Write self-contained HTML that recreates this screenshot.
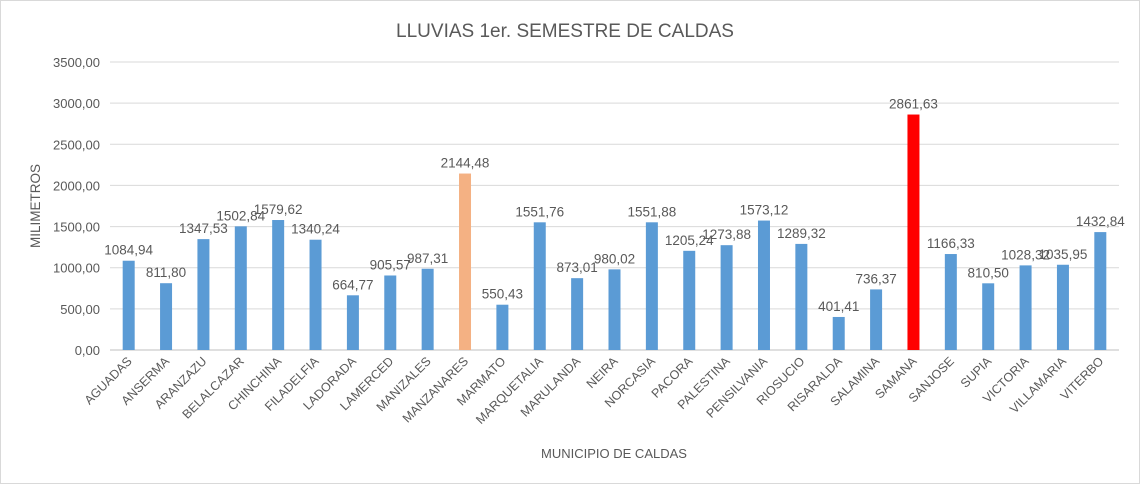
<!DOCTYPE html>
<html><head><meta charset="utf-8"><style>
body{margin:0;background:#fff;}
svg text{font-family:"Liberation Sans",sans-serif;fill:#595959;}
</style></head><body>
<svg id="chart" width="1140" height="484">
<rect x="0.5" y="0.5" width="1139" height="483" fill="#fff" stroke="#d9d9d9"/>
<text x="565" y="37" font-size="19" text-anchor="middle">LLUVIAS 1er. SEMESTRE DE CALDAS</text>
<text x="614" y="458" font-size="13" text-anchor="middle">MUNICIPIO DE CALDAS</text>
<text transform="translate(40,206) rotate(-90)" font-size="13.5" text-anchor="middle">MILIMETROS</text>
<g id="grid"></g><g id="bars"></g><g id="labels"></g>
</svg>
<script>
const categories=["AGUADAS","ANSERMA","ARANZAZU","BELALCAZAR","CHINCHINA","FILADELFIA","LADORADA","LAMERCED","MANIZALES","MANZANARES","MARMATO","MARQUETALIA","MARULANDA","NEIRA","NORCASIA","PACORA","PALESTINA","PENSILVANIA","RIOSUCIO","RISARALDA","SALAMINA","SAMANA","SANJOSE","SUPIA","VICTORIA","VILLAMARIA","VITERBO"];
const values=[1084.94,811.80,1347.53,1502.84,1579.62,1340.24,664.77,905.57,987.31,2144.48,550.43,1551.76,873.01,980.02,1551.88,1205.24,1273.88,1573.12,1289.32,401.41,736.37,2861.63,1166.33,810.50,1028.32,1035.95,1432.84];
const yTicks=[0,500,1000,1500,2000,2500,3000,3500];
const highlight={"MANZANARES":"#f4b183","SAMANA":"#ff0000"};
const NS="http://www.w3.org/2000/svg";
const x0=110,x1=1119,y0=350,y1=62,yMax=3500;
const step=(x1-x0)/categories.length;
const yS=v=>y0-(v/yMax)*(y0-y1);
const xC=i=>x0+step*(i+0.5);
const fmt=v=>v.toFixed(2).replace('.',',');
function mk(t,a,p){const e=document.createElementNS(NS,t);for(const k in a)e.setAttribute(k,a[k]);p.appendChild(e);return e;}
const grid=document.getElementById('grid'),bars=document.getElementById('bars'),labels=document.getElementById('labels');
yTicks.forEach(t=>{
 const y=yS(t);
 const l=mk('line',{x1:x0,x2:x1,y1:y,y2:y,stroke:t===0?'#bfbfbf':'#d9d9d9','stroke-width':1},grid);
 
 
 const tx=mk('text',{x:x0-10,y:y+5,'font-size':13,'text-anchor':'end'},grid);
 tx.textContent=fmt(t);
 
 
});
categories.forEach((c,i)=>{
 const v=values[i],cx=xC(i),y=yS(v);
 const r=mk('rect',{x:cx-6,y:y,width:12,height:y0-y,fill:highlight[c]||'#5b9bd5'},bars);
 
 
 const vl=mk('text',{x:cx,y:y-6,'font-size':13.5,'text-anchor':'middle'},labels);
 vl.textContent=fmt(v);
 
 
 const xl=mk('text',{transform:`translate(${cx+4},${y0+12}) rotate(-45)`,'font-size':12.5,'text-anchor':'end'},labels);
 xl.textContent=c;
 
 
});
</script>
</body></html>
